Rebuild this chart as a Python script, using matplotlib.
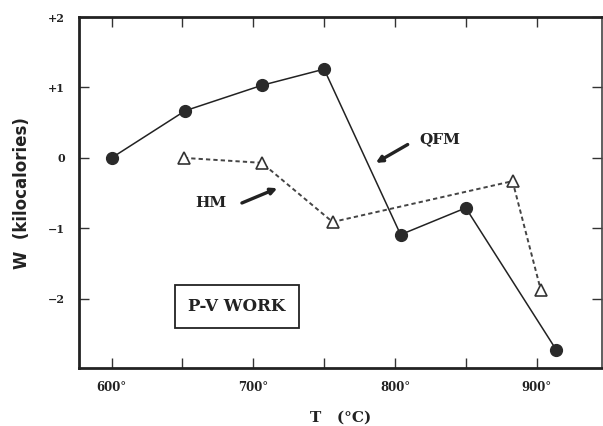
import matplotlib
matplotlib.use('Agg')
import matplotlib.pyplot as plt

# QFM series (filled circles, solid line)
qfm_t = [600, 652, 706, 750, 804, 850, 914]
qfm_w = [0.0, 0.67, 1.03, 1.26, -1.09, -0.71, -2.73]

# HM series (open triangles, dashed line)
hm_t = [651, 706, 756, 883, 903]
hm_w = [0.0, -0.07, -0.91, -0.33, -1.88]

x_major = [600, 700, 800, 900]
x_minor = [650, 750, 850]
x_labels = ['600°', '700°', '800°', '900°']
y_ticks = [-2, -1, 0, 1, 2]
y_labels = ['\u22122', '\u22121', '0', '+1', '+2']

serif = 'DejaVu Serif'

fig = plt.figure(figsize=(6.03, 4.26), dpi=100)
ax = fig.add_axes([0.131, 0.135, 0.867, 0.825])

ax.plot(qfm_t, qfm_w, color='#222222', linewidth=1.1, marker='o',
        markersize=8.5, markerfacecolor='#2a2a2a', markeredgecolor='#2a2a2a', zorder=3)
ax.plot(hm_t, hm_w, color='#444444', linewidth=1.4, linestyle=(0, (2.2, 1.6)),
        marker='^', markersize=9, markerfacecolor='white', markeredgecolor='#333333',
        markeredgewidth=1.2, zorder=3)

ax.set_xlim(577, 946)
ax.set_ylim(-2.99, 2.0)

ax.set_xticks(x_major)
ax.set_xticklabels(x_labels, fontfamily=serif, fontweight='bold', fontsize=8.5, color='#222222')
ax.set_xticks(x_minor, minor=True)
ax.set_yticks(y_ticks)
ax.set_yticklabels(y_labels, fontfamily=serif, fontweight='bold', fontsize=8, color='#222222')

ax.tick_params(which='both', direction='in', length=7, width=1.0, color='#333333',
               top=True, right=True, pad=10)
ax.tick_params(axis='x', which='both', pad=9)

for side in ['left', 'bottom', 'top']:
    ax.spines[side].set_linewidth(2.0)
    ax.spines[side].set_color('#222222')
ax.spines['right'].set_linewidth(1.2)
ax.spines['right'].set_color('#444444')

ax.set_ylabel('W  (kilocalories)', fontfamily='DejaVu Sans', fontweight='bold',
              fontsize=12, color='#222222', labelpad=12)
ax.set_xlabel('T   (°C)', fontfamily=serif, fontweight='bold', fontsize=11,
              color='#222222', labelpad=12)

# labels and arrows
arrow = dict(arrowstyle='-|>', color='#222222', lw=2.4, mutation_scale=9,
             shrinkA=0, shrinkB=0)
ax.text(832, 0.26, 'QFM', ha='center', va='center', fontfamily=serif,
        fontweight='bold', fontsize=11, color='#222222')
ax.annotate('', xy=(786.5, -0.07), xytext=(809, 0.19), arrowprops=arrow)
ax.text(670, -0.64, 'HM', ha='center', va='center', fontfamily=serif,
        fontweight='bold', fontsize=11, color='#222222')
ax.annotate('', xy=(717, -0.43), xytext=(692, -0.64), arrowprops=arrow)

ax.text(688.5, -2.11, 'P-V WORK', ha='center', va='center', fontfamily=serif,
        fontweight='bold', fontsize=12, color='#222222',
        bbox=dict(boxstyle='square,pad=0.8', facecolor='white', edgecolor='#222222', linewidth=1.3))

fig.savefig('out.png', dpi=100)
